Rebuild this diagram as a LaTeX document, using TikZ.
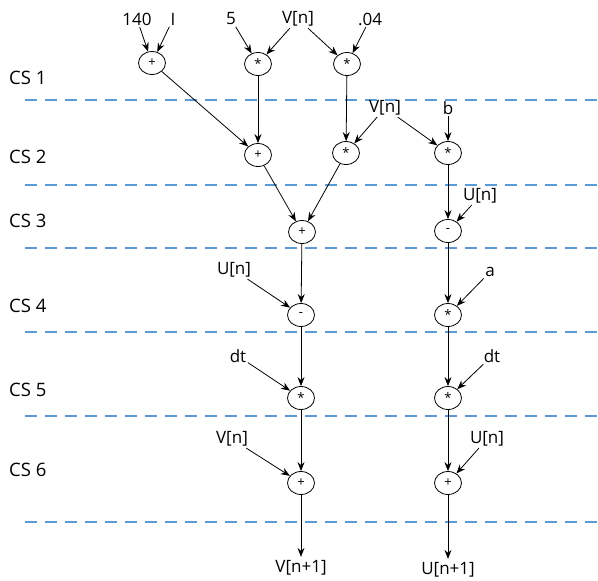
\documentclass[tikz,border=0pt]{standalone}
\usepackage{fontspec}
\setmainfont{Open Sans}
\usetikzlibrary{arrows.meta,shapes.geometric}
\definecolor{dashblue}{RGB}{91,155,213}
\begin{document}
\begin{tikzpicture}[x=1pt,y=-1pt,
  op/.style={ellipse,draw,line width=0.8pt,minimum width=27pt,minimum height=23pt,inner sep=0pt,font=\fontsize{13}{13}\selectfont},
  lbl/.style={inner sep=1.5pt,font=\fontsize{17}{17}\selectfont},
  cs/.style={anchor=west,inner sep=0pt,font=\fontsize{18.5}{18.5}\selectfont},
  sep/.style={dashed,dashblue,line width=1.3pt,dash pattern=on 12pt off 8pt},
  arr/.style={-{Stealth[length=9pt,width=7pt]},line width=0.8pt}]
\useasboundingbox (0,0) rectangle (598,581);
% stage separators
\foreach \yy/\nm in {100/s1,185/s2,248/s3,332/s4,416/s5,522/s6}{
  \coordinate (\nm a) at (25,\yy); \coordinate (\nm b) at (598,\yy);
  \draw[sep] (\nm a) -- (\nm b);}
% CS labels
\node[cs] (cs1) at (9,78) {CS 1};
\node[cs] (cs2) at (9,157) {CS 2};
\node[cs] (cs3) at (9,221) {CS 3};
\node[cs] (cs4) at (9,306) {CS 4};
\node[cs] (cs5) at (9,390) {CS 5};
\node[cs] (cs6) at (9,470) {CS 6};
% operator nodes
\node[op] (p1) at (152,63) {+};
\node[op] (m1) at (258,64) {*};
\node[op] (m2) at (347,64) {*};
\node[op] (p2) at (258,155) {+};
\node[op] (m3) at (346,153) {*};
\node[op] (m4) at (448,153) {*};
\node[op] (p3) at (302,232) {+};
\node[op] (d1) at (448,231) {-};
\node[op] (d2) at (301,315) {-};
\node[op] (m5) at (448,315) {*};
\node[op] (m6) at (301,398) {*};
\node[op] (m7) at (448,398) {*};
\node[op] (p4) at (301,483) {+};
\node[op] (p5) at (448,483) {+};
% input labels
\node[lbl] (i140) at (137,19) {140};
\node[lbl] (iI) at (173,19) {I};
\node[lbl] (i5) at (231,19) {5};
\node[lbl] (iV1) at (298,19) {V[n]};
\node[lbl] (i04) at (370,19) {.04};
\node[lbl] (iV2) at (385,108) {V[n]};
\node[lbl] (ib) at (448,108) {b};
\node[lbl] (iU1) at (480,196) {U[n]};
\node[lbl] (iU2) at (234,270) {U[n]};
\node[lbl] (ia) at (490,272) {a};
\node[lbl] (idt1) at (238,356) {dt};
\node[lbl] (idt2) at (492,356) {dt};
\node[lbl] (iV3) at (232,439) {V[n]};
\node[lbl] (iU3) at (487,439) {U[n]};
\node[lbl] (o1) at (301,568) {V[n+1]};
\node[lbl] (o2) at (448,570) {U[n+1]};
% connectors
\draw[arr] (i140) -- (p1);
\draw[arr] (iI) -- (p1);
\draw[arr] (i5) -- (m1);
\draw[arr] (iV1) -- (m1);
\draw[arr] (iV1) -- (m2);
\draw[arr] (i04) -- (m2);
\draw[arr] (p1) -- (p2);
\draw[arr] (m1) -- (p2);
\draw[arr] (m2) -- (m3);
\draw[arr] (iV2) -- (m3);
\draw[arr] (iV2) -- (m4);
\draw[arr] (ib) -- (m4);
\draw[arr] (p2) -- (p3);
\draw[arr] (m3) -- (p3);
\draw[arr] (m4) -- (d1);
\draw[arr] (iU1) -- (d1);
\draw[arr] (p3) -- (d2);
\draw[arr] (iU2) -- (d2);
\draw[arr] (d1) -- (m5);
\draw[arr] (ia) -- (m5);
\draw[arr] (d2) -- (m6);
\draw[arr] (idt1) -- (m6);
\draw[arr] (m5) -- (m7);
\draw[arr] (idt2) -- (m7);
\draw[arr] (m6) -- (p4);
\draw[arr] (iV3) -- (p4);
\draw[arr] (m7) -- (p5);
\draw[arr] (iU3) -- (p5);
\draw[arr,shorten >=2pt] (p4) -- (o1);
\draw[arr,shorten >=2pt] (p5) -- (o2);
\end{tikzpicture}
\end{document}
